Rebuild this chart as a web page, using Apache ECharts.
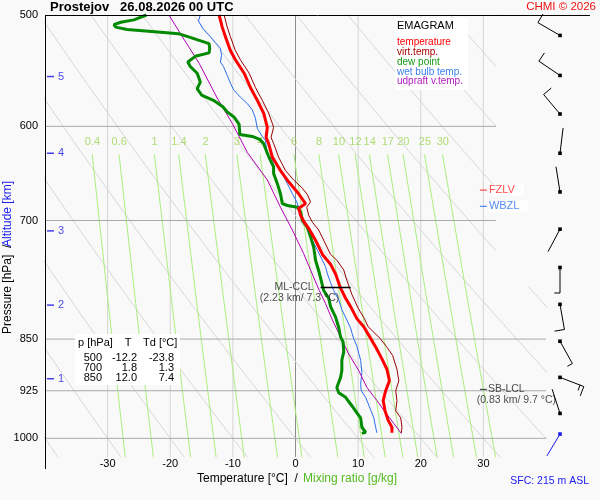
<!DOCTYPE html>
<html lang="cs">
<head>
<meta charset="UTF-8">
<title>Emagram Prostejov</title>
<script src="https://cdn.jsdelivr.net/npm/echarts@6/dist/echarts.min.js"></script>
<style>
    html, body { margin: 0; padding: 0; background: #f9f9f9; }
    #chart { width: 600px; height: 500px; }
</style>
</head>
<body>
<div id="chart"></div>
<script>
    // ---- sounding (pressure hPa, temperature degC) ----
    var tempP = [500, 510, 518, 530, 538, 550, 563, 575, 587, 601, 611, 617, 631, 645, 657, 670, 681, 686, 694, 702,
                 709, 723, 740, 752, 764, 782, 795, 806, 822, 833, 849, 861, 878, 893, 910, 925, 940, 956, 971, 982, 991];
    var tempT = [-12.2, -11.7, -11.2, -10.4, -9.6, -8.2, -7.2, -6.1, -5.1, -4.5, -4.7, -4.3, -3.7, -2.4, -1.1, 0.5, 1.6, 0.5, 0.8, 1.4,
                 2.1, 3.2, 4.3, 5.6, 6.4, 7.2, 8.0, 8.8, 9.8, 10.9, 12.0, 12.8, 13.8, 14.6, 15.0, 14.4, 14.0, 14.3, 14.8, 15.4, 15.4];

    var virtP = [500, 510, 518, 530, 538, 550, 563, 575, 587, 597, 601, 611, 617, 631, 645, 655, 664, 671, 679, 685,
                 694, 702, 711, 723, 740, 747, 759, 772, 790, 808, 822, 833, 849, 860, 873, 893, 910, 925, 940, 956,
                 967, 982, 991];
    var virtT = [-11.4, -10.9, -10.4, -9.6, -8.8, -7.4, -6.4, -5.3, -4.3, -3.7, -3.5, -3.9, -3.5, -2.7, -1.6, -0.3, 1.1, 1.9, 2.4, 1.8,
                 2.1, 2.7, 3.7, 4.5, 5.6, 6.6, 7.7, 8.2, 9.0, 10.0, 11.0, 11.6, 13.5, 14.5, 15.5, 16.2, 16.5, 16.0, 16.2, 16.0,
                 16.8, 17.0, 16.9];

    var dewP = [500, 504, 506, 508, 510, 512, 514.5, 515.5, 518, 521, 524, 528, 532, 535, 540, 544, 550, 558, 564, 570,
                575, 581, 586, 591, 598, 608, 610, 613, 617, 627, 633, 641, 648, 659, 670, 681, 683, 685, 690, 700,
                708, 719, 731, 747, 760, 772, 785, 795, 806, 820, 834, 847, 854, 868, 880, 895, 905, 920, 928, 935,
                948, 959, 967, 982, 990, 992];
    var dewT = [-23.8, -25.8, -27.9, -29.0, -28.7, -26.9, -21.0, -18.7, -17.2, -15.5, -13.8, -13.7, -13.8, -16.0, -17.2, -16.8, -15.7, -15.2, -15.7, -15.0,
                -13.1, -11.6, -10.9, -9.8, -9.0, -8.9, -6.9, -5.7, -5.1, -4.5, -4.1, -3.5, -3.5, -2.9, -2.4, -2.1, -1.3, 0.3, 0.8, 1.1,
                1.9, 2.4, 2.9, 3.2, 3.7, 4.1, 4.5, 5.3, 5.6, 6.4, 6.9, 7.2, 7.6, 7.7, 7.4, 7.4, 7.2, 6.6, 6.9, 8.0,
                9.0, 9.8, 10.4, 10.6, 11.2, 10.6];

    var wetP = [500, 505, 512, 518, 523, 528, 534, 540, 544, 552, 559, 565, 572, 578, 584, 592, 602, 610, 614, 624,
                630, 634, 641, 648, 659, 670, 679, 685, 694, 702, 709, 723, 735, 747, 755, 764, 775, 785, 797, 810,
                822, 835, 847, 860, 880, 898, 915, 925, 935, 952, 967, 982, 991];
    var wetT = [-15.2, -15.5, -14.7, -13.6, -12.8, -12.0, -11.8, -12.0, -11.5, -10.9, -10.4, -9.9, -8.8, -7.7, -6.9, -6.4, -6.1, -5.3, -4.8, -4.6,
                -4.2, -3.7, -2.9, -2.1, -1.3, -0.5, 0.2, 0.5, 0.8, 1.3, 1.9, 2.7, 3.5, 4.3, 4.8, 5.1, 5.6, 6.1, 6.9, 7.4,
                8.1, 8.8, 9.2, 9.8, 10.4, 10.6, 10.4, 10.5, 11.2, 11.9, 12.5, 12.8, 13.0];

    var parcelP = [500, 517, 541, 574, 597, 626, 655, 685, 711, 739, 772, 785, 802, 824, 847, 871, 895, 920, 940, 959, 976, 992];
    var parcelT = [-20.2, -18.2, -15.4, -12.4, -10.1, -7.7, -4.5, -2.4, -0.5, 1.3, 3.1, 3.8, 4.8, 5.9, 7.2, 8.5, 10.1, 11.4, 13.0, 14.4, 15.7, 16.9];

    // wind barbs (direction deg, speed kt)
    var windP   = [517, 552, 588, 627, 668, 710, 756, 803, 853, 905, 960];
    var windDir = [300, 304, 320, 7, 351, 208, 180, 170, 151, 111, 342];
    var windKt  = [10, 10, 10, 0, 0, 0, 5, 10, 5, 15, 0];
    var sfcWindP = 993, sfcWindDir = 211, sfcWindKt = 0;

    // axes / background
    var pressureTicks = [500, 600, 700, 850, 925, 1000];
    var isotherms = [-30, -20, -10, 0, 10, 20, 30];
    var mixingRatios = [0.4, 0.6, 1, 1.4, 2, 3, 4, 6, 8, 10, 12, 14, 17, 20, 25, 30];
    var adiabatT1000 = [-40, -30, -20, -10, 0, 10, 20, 30, 40, 50, 60, 70, 80, 90, 100];
    var altitudeKm = [1, 2, 3, 4, 5];
    var altitudeP = [907, 804, 712, 627, 553];

    // levels and table
    var fzlvP = 666, wbzlP = 684;
    var sbLclP = 923, sbLclKm = 0.83, sbLclT = 9.7;
    var mlCclP = 781, mlCclKm = 2.23, mlCclT = 7.3, mlCclSpan = [4.0, 8.8];
    var tableP = [500, 700, 850];
    var tableT = [-12.2, 1.8, 12.0];
    var tableTd = [-23.8, 1.3, 7.4];

    var legendNames = ['temperature', 'virt.temp.', 'dew point', 'wet bulb temp.', 'udpraft v.temp.'];
    var legendColors = ['#ff0000', '#aa0000', '#139a13', '#3b7ff0', '#b21cc0'];

    var FONT = 'Liberation Sans, Arial, sans-serif';
    var BG = '#f9f9f9';
    var P_TOP = Math.log(500), P_BOT = Math.log(1031);

    function toPts(ps, ts) {
        var out = [];
        for (var i = 0; i < ps.length; i++) out.push([ts[i], Math.log(ps[i])]);
        return out;
    }
    function dewFromMix(w, p) {
        var e = w * p / (622 + w);
        var l = Math.log(e / 6.112);
        return 243.5 * l / (17.67 - l);
    }
    function dryAdiabat(t0, p) {
        return (t0 + 273.15) * Math.pow(p / 1000, 0.2857) - 273.15;
    }

    var series = [];
    function bgLine(data, color, width, z) {
        series.push({
            type: 'line', data: data, symbol: 'none', silent: true, animation: false,
            lineStyle: { color: color, width: width }, z: z, clip: true
        });
    }

    isotherms.forEach(function (t) {
        bgLine([[t, P_TOP], [t, P_BOT]], t === 0 ? '#8c8c8c' : '#d4d4d4', 1, 1);
    });
    adiabatT1000.forEach(function (t0) {
        var d = [];
        for (var p = 470; p <= 1045; p += 5) d.push([dryAdiabat(t0, p), Math.log(p)]);
        bgLine(d, '#d6d6d6', 1, 1);
    });
    mixingRatios.forEach(function (w) {
        var d = [];
        for (var p = 628; p <= 1046; p += 6) d.push([dewFromMix(w, p), Math.log(p)]);
        bgLine(d, '#a9ee7c', 1, 2);
    });
    pressureTicks.slice(1).forEach(function (p) {
        bgLine([[-40, Math.log(p)], [40, Math.log(p)]], '#a9a9a9', 1, 2);
    });

    // upper right corner is left empty in the original
    series.push({
        type: 'custom', silent: true, animation: false, z: 3, clip: false,
        data: [[32, P_TOP]],
        renderItem: function (params, api) {
            var a = api.coord([32, P_TOP]), b = api.coord([40.5, Math.log(780)]);
            return { type: 'rect', shape: { x: a[0], y: a[1] + 1, width: b[0] - a[0], height: b[1] - a[1] - 1 }, style: { fill: BG } };
        }
    });

    // mixing ratio labels
    series.push({
        type: 'scatter', silent: true, animation: false, z: 4, symbolSize: 0,
        data: mixingRatios.map(function (w) { return [dewFromMix(w, 630), Math.log(616), w]; }),
        label: {
            show: true, position: 'inside', color: '#9ad650', fontSize: 11, fontFamily: FONT,
            formatter: function (p) { return String(p.value[2]); }
        }
    });

    // profiles
    function profile(name, ps, ts, color, width, z) {
        series.push({
            name: name, type: 'line', data: toPts(ps, ts), symbol: 'none', animation: false,
            lineStyle: { color: color, width: width }, z: z, clip: true
        });
    }
    profile('wet bulb temp.', wetP, wetT, '#2a6ef0', 1, 6);
    profile('udpraft v.temp.', parcelP, parcelT, '#b000b0', 1, 6);
    profile('dew point', dewP, dewT, '#008a00', 3, 7);
    profile('virt.temp.', virtP, virtT, '#990000', 1, 8);
    profile('temperature', tempP, tempT, '#ff0000', 3, 9);

    // altitude ticks (km)
    series.push({
        type: 'scatter', silent: true, animation: false, z: 10,
        symbol: 'rect', symbolSize: [7, 1.5], symbolOffset: [5.5, 0],
        itemStyle: { color: '#1515e0' },
        data: altitudeP.map(function (p, i) { return [-40, Math.log(p), altitudeKm[i]]; }),
        label: {
            show: true, position: 'right', distance: 4, color: '#1515e0', fontSize: 11, fontFamily: FONT,
            formatter: function (p) { return String(p.value[2]); }
        }
    });

    // level markers
    function marker(t, p, text, color, extra) {
        var item = {
            value: [t, Math.log(p)],
            itemStyle: { color: color },
            label: Object.assign({
                show: true, position: 'right', distance: 1, color: color, fontSize: 11, fontFamily: FONT,
                formatter: text
            }, extra || {})
        };
        return item;
    }
    series.push({
        type: 'scatter', silent: true, animation: false, z: 11, clip: false,
        symbol: 'rect', symbolSize: [7, 1.2],
        data: [
            marker(30, fzlvP, 'FZLV', '#ff1a1a', { backgroundColor: '#ffffff', padding: [1, 9, 0, 1] }),
            marker(30, wbzlP, 'WBZL', '#2a6ef0', { backgroundColor: '#ffffff', padding: [1, 9, 0, 1] }),
            marker(30, sbLclP, 'SB-LCL', '#222222', { fontSize: 10.5 })
        ]
    });
    series.push({
        type: 'scatter', silent: true, animation: false, z: 11, clip: false, symbolSize: 0,
        data: [
            { value: [30, Math.log(sbLclP)], label: { show: true, position: 'inside', offset: [33, 11], color: '#222', fontSize: 10.5, fontFamily: FONT,
                formatter: '(' + sbLclKm.toFixed(2) + ' km/ ' + sbLclT.toFixed(1) + ' °C)' } },
            { value: [mlCclSpan[0], Math.log(mlCclP)], label: { show: true, position: 'left', distance: 7, color: '#222', fontSize: 10.5, fontFamily: FONT,
                formatter: 'ML-CCL' } },
            { value: [mlCclSpan[0], Math.log(mlCclP)], label: { show: true, position: 'inside', offset: [-21, 11], color: '#222', fontSize: 10.5, fontFamily: FONT,
                formatter: '(' + mlCclKm.toFixed(2) + ' km/ ' + mlCclT.toFixed(1) + ' °C)' } }
        ]
    });
    series.push({
        type: 'line', symbol: 'none', silent: true, animation: false, z: 11,
        lineStyle: { color: '#000', width: 1.5 },
        data: [[mlCclSpan[0], Math.log(mlCclP)], [mlCclSpan[1], Math.log(mlCclP)]]
    });

    // wind barbs
    function barbItem(params, api, color) {
        var c = api.coord([api.value(0), api.value(1)]);
        var dir = api.value(2) * Math.PI / 180, kt = api.value(3);
        var ux = Math.sin(dir), uy = -Math.cos(dir);
        var fx = -uy, fy = ux;
        var L = 25.5;
        var tip = [c[0] + ux * L, c[1] + uy * L];
        var kids = [
            { type: 'line', shape: { x1: c[0], y1: c[1], x2: tip[0], y2: tip[1] }, style: { stroke: color, lineWidth: 1 } },
            { type: 'rect', shape: { x: c[0] - 1.8, y: c[1] - 1.8, width: 3.6, height: 3.6 }, style: { fill: color } }
        ];
        var full = Math.floor(kt / 10), half = (kt % 10) >= 5 ? 1 : 0;
        var pos = 0;
        function feather(len) {
            var bx = tip[0] - ux * pos, by = tip[1] - uy * pos;
            kids.push({ type: 'line', shape: { x1: bx, y1: by, x2: bx + fx * len, y2: by + fy * len }, style: { stroke: color, lineWidth: 1 } });
            pos += 4;
        }
        for (var i = 0; i < full; i++) feather(10);
        if (half) feather(5.7);
        return { type: 'group', children: kids };
    }
    series.push({
        type: 'custom', xAxisIndex: 1, yAxisIndex: 1, silent: true, animation: false, clip: false, z: 12,
        encode: { x: 0, y: 1 },
        data: windP.map(function (p, i) { return [0.5, Math.log(p), windDir[i], windKt[i]]; }),
        renderItem: function (params, api) { return barbItem(params, api, '#000'); }
    });
    series.push({
        type: 'custom', xAxisIndex: 1, yAxisIndex: 1, silent: true, animation: false, clip: false, z: 12,
        encode: { x: 0, y: 1 },
        data: [[0.5, Math.log(sfcWindP), sfcWindDir, sfcWindKt]],
        renderItem: function (params, api) { return barbItem(params, api, '#1a1aee'); }
    });

    // texts drawn around the diagram
    function txt(x, y, text, color, size, extra) {
        var st = { text: text, fill: color, fontSize: size, fontFamily: FONT,
                   align: 'left', textAlign: 'left', verticalAlign: 'middle', textVerticalAlign: 'middle' };
        Object.assign(st, extra || {});
        return { type: 'text', x: x, y: y, style: st, z: 100 };
    }
    var graphics = [
        { type: 'line', shape: { x1: 45.5, y1: 15, x2: 45.5, y2: 469 }, style: { stroke: '#000', lineWidth: 1 }, z: 100 },
        { type: 'line', shape: { x1: 45, y1: 15.5, x2: 590, y2: 15.5 }, style: { stroke: '#000', lineWidth: 1 }, z: 100 },
        txt(50, 7, 'Prostejov   26.08.2026 00 UTC', '#000', 13, { fontWeight: 'bold' }),
        txt(596, 7, 'CHMI © 2026', '#ee1111', 11.5, { align: 'right', textAlign: 'right' }),
        { type: 'rect', shape: { x: 395, y: 18, width: 73, height: 72 }, style: { fill: '#ffffff' }, z: 99 },
        txt(397, 26, 'EMAGRAM', '#000', 11),
        { type: 'rect', shape: { x: 75, y: 334, width: 105, height: 51 }, style: { fill: '#ffffff' }, z: 99 },
        txt(78, 343, 'p [hPa]', '#000', 11),
        txt(128, 343, 'T', '#000', 11, { align: 'center', textAlign: 'center' }),
        txt(143, 343, 'Td [°C]', '#000', 11),
        txt(197, 479, 'Temperature [°C]  /', '#000', 12),
        txt(303, 479, 'Mixing ratio [g/kg]', '#55bb22', 12),
        txt(589, 481, 'SFC: 215 m ASL', '#1a1aee', 10.5, { align: 'right', textAlign: 'right' }),
        { type: 'text', x: 8, y: 334, rotation: Math.PI / 2, z: 100,
          style: { text: 'Pressure [hPa]  /', fill: '#000', fontSize: 12, fontFamily: FONT, align: 'left', textAlign: 'left', verticalAlign: 'middle', textVerticalAlign: 'middle' } },
        { type: 'text', x: 8, y: 247, rotation: Math.PI / 2, z: 100,
          style: { text: 'Altitude [km]', fill: '#1a1aee', fontSize: 12, fontFamily: FONT, align: 'left', textAlign: 'left', verticalAlign: 'middle', textVerticalAlign: 'middle' } }
    ];
    legendNames.forEach(function (n, i) {
        graphics.push(txt(397, 42.3 + i * 9.85, n, legendColors[i], 10));
    });
    tableP.forEach(function (p, i) {
        var y = 358.3 + i * 10;
        graphics.push(txt(102, y, String(p), '#000', 11, { align: 'right', textAlign: 'right' }));
        graphics.push(txt(137, y, tableT[i].toFixed(1), '#000', 11, { align: 'right', textAlign: 'right' }));
        graphics.push(txt(174, y, tableTd[i].toFixed(1), '#000', 11, { align: 'right', textAlign: 'right' }));
    });

    var myChart = echarts.init(document.getElementById('chart'));
    var option = {
        backgroundColor: BG,
        animation: false,
        textStyle: { fontFamily: FONT },
        grid: [
            { left: 45, top: 15, width: 501, height: 442 },
            { left: 530, top: 15, width: 60, height: 442 }
        ],
        xAxis: [
            {
                type: 'value', min: -40, max: 40, interval: 10,
                axisLine: { show: false }, axisTick: { show: false }, splitLine: { show: false },
                axisLabel: {
                    color: '#000', fontSize: 11, margin: 1,
                    formatter: function (v) { return (v <= -40 || v >= 40) ? '' : String(v); }
                }
            },
            { gridIndex: 1, type: 'value', min: 0, max: 1, show: false }
        ],
        yAxis: [
            {
                type: 'value', inverse: true, min: P_TOP, max: P_BOT,
                axisLine: { show: false }, axisTick: { show: false }, splitLine: { show: false },
                axisLabel: {
                    color: '#000', fontSize: 11, margin: 7,
                    customValues: pressureTicks.map(function (p) { return Math.log(p); }),
                    formatter: function (v) { return String(Math.round(Math.exp(v))); }
                }
            },
            { gridIndex: 1, type: 'value', inverse: true, min: P_TOP, max: P_BOT, show: false }
        ],
        series: series,
        graphic: graphics
    };
    myChart.setOption(option);
</script>
</body>
</html>
